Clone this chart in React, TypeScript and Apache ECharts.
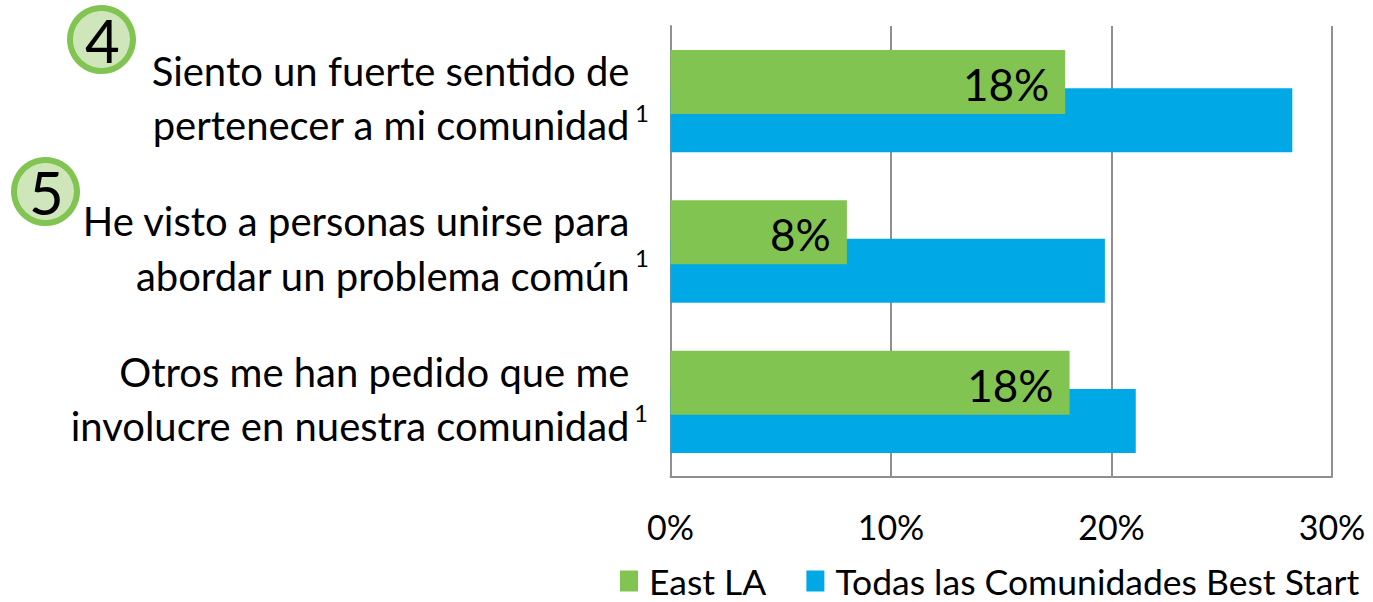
import React, { useEffect, useRef } from "react";
import * as echarts from "echarts";

const categories = [
  "Siento un fuerte sentido de\npertenecer a mi comunidad",
  "He visto a personas unirse para\nabordar un problema común",
  "Otros me han pedido que me\ninvolucre en nuestra comunidad",
];
const eastLA = [17.9, 8.0, 18.1];
const eastLALabels = ["18%", "8%", "18%"];
const todas = [28.2, 19.7, 21.1];
const xTicks = [0, 10, 20, 30];
const FONT = "Lato";
const GREEN = "#82c452";
const BLUE = "#00a8e6";
const GRAY = "#8f8f8f";
const badges = [
  { t: "4", x: 101.5, y: 39.5 },
  { t: "5", x: 45.5, y: 191.5 },
];
const sups = [
  { x: 635, y: 100 },
  { x: 635, y: 245 },
  { x: 634, y: 400 },
];

export default function App() {
  const ref = useRef<HTMLDivElement>(null);
  useEffect(() => {
    const chart = echarts.init(ref.current!, undefined, { renderer: "svg" });
    chart.setOption({
      animation: false,
      textStyle: { fontFamily: FONT },
      grid: { left: 670.5, right: 41, top: 26, bottom: 125, containLabel: false },
      legend: {
        left: 620,
        top: 563,
        padding: 0,
        itemWidth: 18,
        itemHeight: 21,
        itemGap: 40,
        itemStyle: { borderWidth: 0 },
        icon: "rect",
        textStyle: { fontFamily: FONT, fontSize: 35.5, color: "#000", padding: [0, 0, 0, 6] },
        data: ["East LA", "Todas las Comunidades Best Start"],
      },
      xAxis: {
        type: "value",
        min: 0,
        max: 30,
        interval: 10,
        axisLine: { show: true, lineStyle: { color: GRAY, width: 2 } },
        axisTick: { show: false },
        splitLine: { show: true, lineStyle: { color: GRAY, width: 2 } },
        axisLabel: {
          margin: 32,
          fontFamily: FONT,
          fontSize: 34,
          color: "#000",
          formatter: (v: number) => (xTicks.includes(v) ? `${v}%` : ""),
        },
      },
      yAxis: {
        type: "category",
        inverse: true,
        data: categories,
        axisLine: { show: true, lineStyle: { color: GRAY, width: 2 } },
        axisTick: { show: false },
        axisLabel: {
          margin: 41,
          color: "#000",
          align: "right",
          formatter: (v: string) =>
            v.split("\n").map((l) => `{a|${l}}`).join("\n") + "\n{s| }",
          rich: {
            a: { fontFamily: FONT, fontSize: 40, lineHeight: 54.5, color: "#000", align: "right" },
            s: { fontFamily: FONT, fontSize: 4, lineHeight: 6, align: "right" },
          },
        },
      },
      series: [
        {
          name: "East LA",
          type: "bar",
          z: 3,
          data: eastLA,
          barWidth: 64,
          barGap: "-40%",
          itemStyle: { color: GREEN },
          label: {
            show: true,
            position: "insideRight",
            distance: 16,
            offset: [0, 2],
            fontFamily: FONT,
            fontSize: 44,
            color: "#000",
            formatter: (p: any) => eastLALabels[p.dataIndex],
          },
        },
        {
          name: "Todas las Comunidades Best Start",
          type: "bar",
          z: 2,
          data: todas,
          barWidth: 64,
          barGap: "-40%",
          itemStyle: { color: BLUE },
        },
      ],
      graphic: [
        ...badges.flatMap((b) => [
          {
            type: "circle",
            shape: { cx: b.x, cy: b.y, r: 31.5 },
            style: { fill: "#cfe6bb", stroke: GREEN, lineWidth: 6 },
          },
          {
            type: "text",
            x: b.x + 1,
            y: b.y,
            style: {
              text: b.t,
              font: `60px ${FONT}`,
              fill: "#000",
              textAlign: "center",
              textVerticalAlign: "middle",
            },
          },
        ]),
        ...sups.map((s) => ({
          type: "text",
          x: s.x,
          y: s.y,
          style: { text: "1", font: `24px ${FONT}`, fill: "#000" },
        })),
      ],
    });
    return () => chart.dispose();
  }, []);
  return <div ref={ref} style={{ position: "absolute", left: 0, top: 0, width: 1373, height: 602 }} />;
}
